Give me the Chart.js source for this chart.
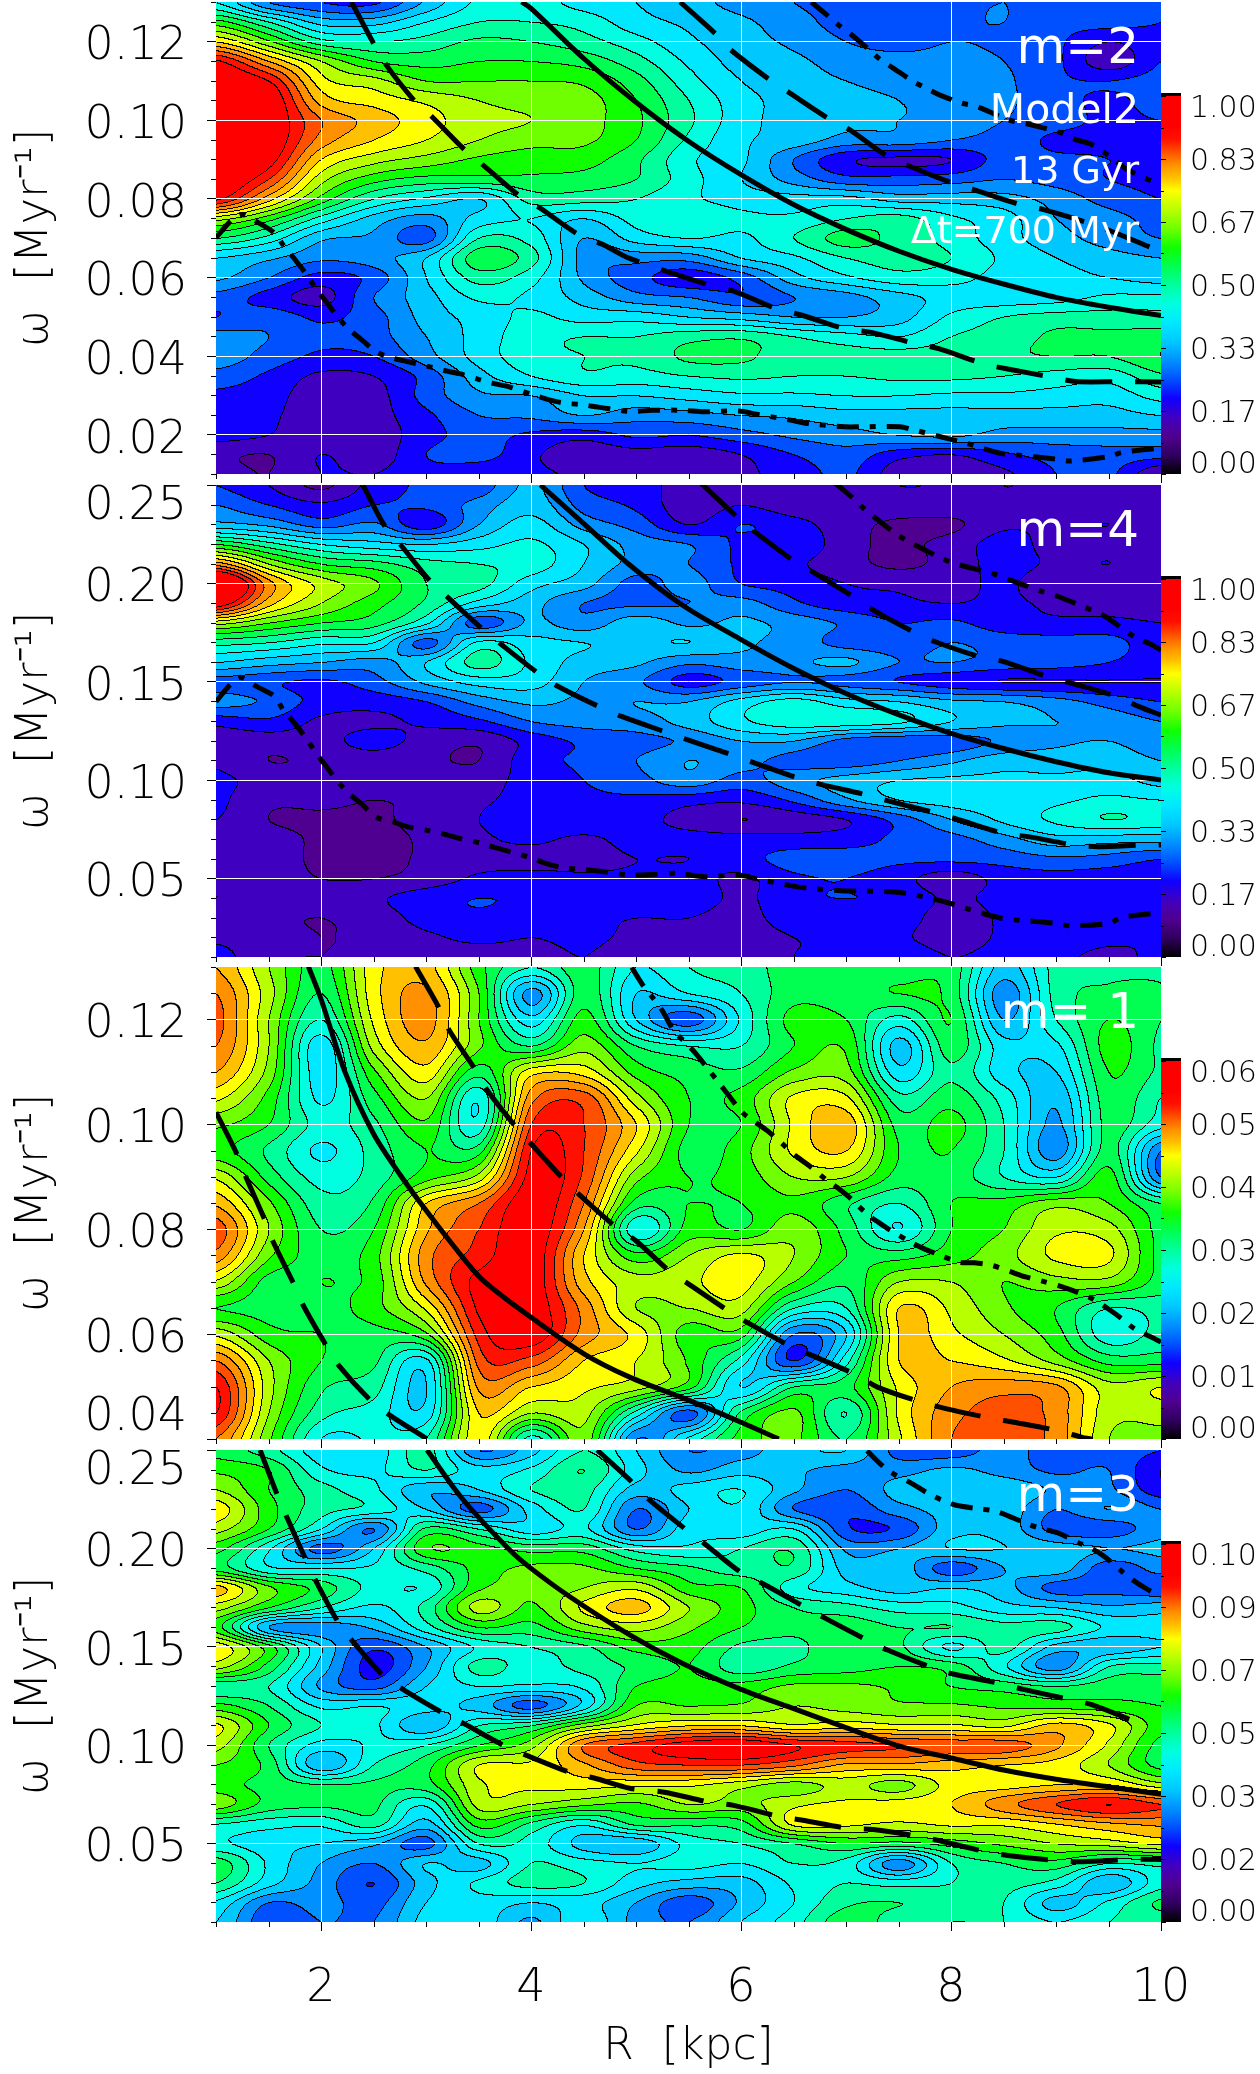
<!DOCTYPE html>
<html><head><meta charset="utf-8">
<style>html,body{margin:0;padding:0;background:#fff}canvas{position:absolute;left:0;display:block}</style>
<script src="https://cdn.jsdelivr.net/npm/chart.js@4/dist/chart.umd.js"></script>
</head><body>
<canvas id="c1"></canvas><canvas id="c2"></canvas><canvas id="c3"></canvas><canvas id="c4"></canvas>
<script>
const rCols=[1,1.5,2,2.5,3,3.5,4,4.5,5,5.5,6,6.5,7,7.5,8,8.5,9,9.5,10];
const xTicks=[2,4,6,8,10];
const xMinor=[1,1.5,2.5,3,3.5,4.5,5,5.5,6.5,7,7.5,8.5,9,9.5];

const w2=[.13,.125,.12,.115,.11,.105,.10,.095,.09,.085,.08,.075,.07,.065,.06,.055,.05,.045,.04,.035,.03,.025,.02,.015,.01];
const v2=[
[45,30,25,24,36,46,47,43,40,37,33,30,28,25,29,30,29,29,26],
[62,50,38,38,45,50,50,48,42,39,36,32,28,27,29,30,27,27,25],
[80,66,52,50,52,56,55,52,47,41,37,34,30,28,30,29,26,20,24],
[101,85,70,60,58,60,60,58,52,44,38,36,33,32,32,30,26,17,25],
[108,100,77,72,65,65,65,64,57,47,40,37,35,34,34,31,26,25,27],
[115,106,83,78,74,70,68,67,60,50,42,38,36,35,34,31,27,24,27],
[115,106,90,83,77,72,70,67,61,51,42,38,36,35,33,30,27,24,25],
[115,106,88,80,75,70,67,66,60,49,41,38,33,33,30,28,24,24,23],
[112,103,80,72,68,64,62,62,56,46,41,30,21,19,20,27,26,25,24],
[108,95,72,62,58,58,59,58,55,47,40,33,27,27,28,30,28,25,24],
[101,82,63,50,44,40,52,52,50,46,43,42,42,38,38,37,33,28,25],
[72,62,48,38,33,42,45,40,47,49,46,46,50,52,46,42,35,32,28],
[55,48,36,34,28,50,48,35,42,45,44,50,57,53,48,42,37,33,30],
[40,36,31,33,40,58,52,33,32,32,40,44,50,52,50,44,40,37,35],
[36,30,23,27,40,52,47,34,27,22,27,38,44,48,47,43,42,40,38],
[28,23,18,30,38,46,44,38,32,30,26,30,33,38,42,42,43,46,46],
[25,28,24,28,37,42,46,43,43,40,38,35,35,38,46,50,52,52,52],
[32,30,26,28,35,42,48,50,50,53,54,50,47,45,50,52,56,56,57],
[33,28,24,25,33,42,48,50,51,56,56,52,52,52,52,54,55,55,60],
[28,24,19,20,27,38,45,49,48,50,51,50,50,51,51,50,48,47,54],
[24,22,17,18,27,34,35,40,40,42,44,44,45,45,44,44,43,42,47],
[24,21,17,18,24,30,31,35,32,33,35,36,38,38,38,38,38,38,40],
[22,20,16,17,23,27,24,22,26,25,28,31,33,35,36,33,33,33,33],
[16,15,20,17,25,27,21,17,18,17,20,25,28,22,20,24,27,28,27],
[17,15,20,20,23,21,21,19,19,17,19,22,26,17,17,19,25,26,15]];

const w4=[.25,.24,.23,.22,.21,.20,.19,.18,.17,.16,.15,.14,.13,.12,.11,.10,.09,.08,.07,.06,.05,.04,.03,.02,.01];
const v4=[
[25,20,14,22,26,27,36,25,23,17,17,16,17,20,19,15,17,18,17],
[30,25,21,25,26,32,38,28,24,17,20,17,17,18,18,16,17,19,18],
[37,34,28,31,22,35,42,33,28,20,25,22,17,14,14,19,19,20,18],
[60,52,45,42,40,43,46,40,33,30,24,24,17,14,17,22,18,19,18],
[88,70,60,57,52,50,48,40,33,30,24,21,17,14,17,22,19,20,18],
[118,87,73,66,55,52,42,37,28,32,25,23,20,19,18,21,16,18,18],
[105,82,70,62,54,43,37,30,29,30,32,26,22,21,20,21,19,19,18],
[72,65,60,57,46,27,36,32,38,34,36,33,29,25,26,22,21,21,20],
[52,50,46,45,28,46,42,40,39,40,36,33,28,27,30,28,27,27,21],
[40,37,35,33,40,52,44,38,36,31,33,34,36,30,30,28,27,25,22],
[28,26,24,28,36,42,42,35,31,23,27,30,28,25,22,20,20,20,20],
[32,29,23,22,25,32,36,34,35,35,42,47,42,40,36,35,32,28,25],
[22,24,19,19,21,24,30,32,33,37,44,48,48,46,40,36,35,33,30],
[16,17,18,22,18,16,22,26,28,31,35,35,28,26,27,31,34,35,32],
[19,15,16,17,16,15,23,26,30,35,32,28,27,30,34,38,38,38,35],
[21,18,16,16,18,18,22,25,28,33,28,33,37,40,41,41,41,42,38],
[21,16,16,15,16,19,22,24,24,22,21,26,34,40,42,42,44,46,45],
[20,15,14,14,17,20,24,24,22,18,15,17,20,27,35,41,46,50,48],
[17,17,14,13,16,19,21,19,22,22,22,22,23,26,28,33,38,37,37],
[17,17,14,13,16,18,18,18,20,20,23,27,27,26,26,27,29,28,25],
[16,17,15,15,17,21,22,21,21,22,19,24,25,22,17,22,23,22,21],
[15,19,17,19,23,25,24,22,22,23,19,24,25,24,19,22,23,22,20],
[17,16,15,17,22,24,22,21,20,20,18,23,24,23,17,21,23,23,21],
[19,17,15,16,19,21,20,21,19,19,17,20,21,21,17,21,22,21,20],
[22,16,15,16,18,18,18,20,17,18,17,20,21,24,20,22,21,19,21]];

const w1=[.13,.125,.12,.115,.11,.105,.10,.095,.09,.085,.08,.075,.07,.065,.06,.055,.05,.045,.04];
const v1=[
[85,70,58,78,82,62,50,58,45,50,52,58,58,57,58,38,52,54,55],
[90,72,55,78,86,65,33,58,40,45,50,58,57,60,58,32,52,56,55],
[92,70,50,76,87,65,42,62,40,27,46,62,60,48,60,35,50,60,55],
[90,70,42,72,84,66,55,68,55,50,50,60,64,38,58,42,44,62,54],
[85,68,42,64,78,57,78,78,63,58,56,66,67,42,54,42,40,60,54],
[76,63,44,58,70,46,88,93,72,60,62,76,76,52,58,48,36,58,50],
[66,60,48,54,64,47,95,95,80,60,60,76,83,58,62,50,34,57,47],
[62,54,44,52,60,58,100,95,76,58,63,76,80,60,60,50,32,57,30],
[74,58,48,52,63,72,102,94,67,60,62,70,70,58,58,50,45,62,30],
[84,66,52,56,80,90,104,90,58,60,60,64,56,50,60,62,68,65,55],
[93,70,55,60,84,95,104,85,46,62,60,68,58,45,60,65,74,72,58],
[88,66,58,63,88,97,104,80,62,70,76,70,60,58,63,68,76,76,58],
[74,58,60,62,86,102,104,82,72,74,77,65,56,70,70,65,68,68,58],
[60,58,58,63,76,101,104,88,70,70,72,50,50,80,74,66,60,50,52],
[74,62,60,58,64,97,104,88,78,62,62,30,40,80,76,70,62,47,52],
[90,70,60,56,44,92,93,80,75,64,48,25,48,80,80,76,68,58,58],
[100,72,56,52,40,86,80,76,72,62,40,55,58,76,85,88,86,72,75],
[100,70,52,48,42,80,70,72,48,28,56,66,50,76,88,92,88,72,72],
[90,66,45,46,50,78,48,68,30,46,62,66,55,74,90,92,88,70,68]];

const w3=[.25,.24,.23,.22,.21,.20,.19,.18,.17,.16,.15,.14,.13,.12,.11,.10,.09,.08,.07,.06,.05,.04,.03,.02,.01];
const v3=[
[58,52,42,42,52,30,38,50,40,30,33,38,40,28,27,32,27,28,25],
[64,60,46,44,50,42,46,55,42,34,38,36,33,33,36,33,29,30,20],
[70,60,52,46,36,40,50,52,38,42,45,36,30,37,38,39,34,31,22],
[78,62,52,48,40,28,42,50,30,40,44,30,26,33,37,38,30,35,30],
[72,60,45,30,56,50,42,46,30,43,42,45,26,26,38,38,28,27,33],
[62,46,28,40,64,62,58,58,48,46,50,54,34,35,40,40,38,35,36],
[58,46,45,46,52,62,66,66,60,56,52,54,38,38,27,35,38,27,32],
[82,66,58,48,46,64,66,70,74,62,60,47,42,38,40,37,28,28,26],
[72,60,50,44,52,72,64,76,82,70,62,55,52,48,47,42,40,36,38],
[62,35,32,36,48,60,58,68,72,66,60,56,58,55,55,52,52,44,42],
[78,62,40,26,35,46,50,54,62,62,54,54,58,56,44,52,38,36,40],
[72,58,38,23,35,52,47,52,56,60,52,56,58,60,58,46,32,50,52],
[52,50,34,28,40,45,44,46,60,62,62,66,66,64,60,58,55,58,58],
[62,55,44,45,42,38,28,42,65,65,66,70,68,66,66,64,63,62,60],
[76,60,50,46,36,50,55,68,76,80,80,76,78,76,76,74,82,76,62],
[72,55,43,46,50,60,68,90,97,103,105,100,97,95,93,93,86,74,58],
[65,58,36,50,58,75,76,84,93,95,95,91,84,84,82,80,78,70,58],
[62,58,55,56,58,74,76,77,76,76,72,68,72,68,77,78,80,80,72],
[68,58,56,56,46,72,70,66,64,70,68,74,76,77,80,88,95,100,95],
[50,47,46,52,38,62,54,46,56,56,58,76,76,74,76,76,80,84,86],
[46,42,40,36,28,50,48,38,36,47,50,55,60,58,62,66,70,72,76],
[58,44,35,30,40,38,50,47,45,47,45,50,48,32,50,55,58,50,52],
[55,42,33,25,38,46,52,50,42,38,38,46,50,48,50,52,48,36,48],
[44,30,32,28,40,43,40,42,35,27,36,45,54,55,52,50,38,46,56],
[40,26,30,30,42,43,34,44,33,30,40,48,58,52,50,50,45,50,52]];

// curves: R and omega
const m2SolidR=[3.91,4,4.5,5,5.5,6,6.5,7,7.5,8,8.5,9,9.5,10];
const m2SolidW=[.13,.1284,.1157,.1045,.0946,.0861,.0785,.0722,.0667,.0621,.0583,.0549,.0524,.0503];
const m2Dash1R=[2.29,2.5,2.61,2.88,3.05,3.38,3.55,3.89,4.08,4.45,4.68,4.94,5.67,5.96,6.34,6.59,6.99,7.24,7.64,7.89,8.31,8.54,8.96,9.19,9.63,10];
const m2Dash1W=[.13,.1195,.1144,.1052,.101,.0921,.0884,.0807,.0777,.0709,.0684,.0648,.0583,.0562,.052,.0503,.0469,.046,.0433,.0418,.038,.0367,.0346,.0335,.0335,.0334];
const m2Dash2R=[5.42,5.75,5.9,6.27,6.44,6.82,7.03,7.39,7.6,8,8.23,8.66,8.9,9.4,9.95];
const m2Dash2W=[.13,.1221,.1179,.1103,.1073,.1006,.0976,.0908,.0883,.0841,.0822,.0785,.0771,.073,.0671];
const m2DotUR=[6.67,6.84,6.95,7.07,7.24,7.33,7.45,7.64,7.76,7.89,8.1,8.24,8.54,8.71,8.88,9.05,9.19,9.34,9.51,9.68,9.95];
const m2DotUW=[.13,.1262,.1237,.1213,.1174,.1153,.1132,.1098,.1081,.1064,.1043,.1035,.1001,.0991,.098,.0967,.095,.0938,.0908,.0874,.084];
const m2DotLR=[1,1.14,1.24,1.39,1.56,1.64,1.75,1.87,1.95,2.04,2.17,2.26,2.38,2.53,2.68,2.82,3.03,3.17,3.32,3.53,3.66,3.8,4.01,4.14,4.3,4.49,4.64,4.94,5.15,5.44,5.65,5.98,6.15,6.47,6.65,6.99,7.14,7.51,7.66,7.97,8.16,8.48,8.64,9,9.13,9.5,9.63,10];
const m2DotLW=[.0701,.0743,.076,.0741,.0712,.0682,.0646,.0604,.0572,.0541,.0496,.0469,.0443,.041,.0395,.0386,.0373,.0363,.0355,.0338,.0329,.0321,.0302,.0291,.0281,.0276,.027,.0259,.0262,.0262,.0258,.026,.0252,.0237,.0228,.022,.022,.022,.0211,.019,.0177,.0152,.0148,.0138,.0133,.0144,.0155,.0166];

const m4SolidR=[4.09,4.5,4.94,5.44,5.98,6.47,7,7.5,8,8.5,9,9.5,10];
const m4SolidW=[.25,.2305,.2093,.189,.172,.1576,.144,.1332,.1237,.116,.1093,.1037,.10];
const m4Dash1R=[2.4,2.6,2.76,3.03,3.2,3.53,3.71,4.07,4.25,4.66,4.87,5.27,5.5,5.92,6.14,6.55,6.78,7.2,7.43,7.87,8.08,8.5,8.73,9.17,9.4,9.84,10];
const m4Dash1W=[.25,.2297,.2195,.2017,.1932,.1771,.1692,.1542,.1478,.137,.1322,.1246,.1203,.1127,.1085,.1008,.0975,.0924,.089,.083,.0797,.0729,.0712,.067,.0661,.067,.067];
const m4Dash2R=[5.62,5.96,6.13,6.49,6.68,7.07,7.26,7.64,7.85,8.27,8.5,8.92,9.15,9.58,9.79,10];
const m4Dash2W=[.2508,.2339,.2263,.2119,.2059,.1932,.1864,.1754,.1703,.1627,.1602,.1525,.1492,.1424,.1373,.133];
const m4DotUR=[6.9,7.07,7.18,7.47,7.58,7.91,8.05,8.39,8.52,8.87,9,9.34,9.46,9.77,9.9,10];
const m4DotUW=[.2508,.2432,.2376,.2254,.2217,.2127,.2098,.2051,.2025,.1958,.1937,.1864,.1834,.172,.1692,.166];
const m4DotLR=[1,1.14,1.23,1.39,1.56,1.64,1.75,1.87,1.95,2.04,2.17,2.27,2.38,2.53,2.68,2.82,3.03,3.17,3.32,3.53,3.66,3.8,4.01,4.14,4.3,4.49,4.64,4.94,5.15,5.4,5.65,5.98,6.15,6.47,6.65,6.99,7.16,7.49,7.66,7.97,8.14,8.48,8.64,9,9.13,9.5,9.63,10];
const m4DotLW=[.1398,.1488,.1522,.1475,.1424,.1356,.1288,.1203,.1139,.1076,.0986,.0929,.0881,.081,.0788,.0763,.0742,.0725,.0703,.0678,.0656,.0636,.0602,.0576,.0554,.0546,.0537,.0517,.052,.0525,.0508,.0517,.0497,.0463,.0449,.0436,.0436,.0429,.0415,.0376,.0347,.0297,.0288,.0271,.0259,.0271,.0302,.0325];

const m1SolidR=[1.88,2,2.23,2.5,2.76,3,3.26,3.53,4,4.5,4.94,5.5,6,6.36];
const m1SolidW=[.1301,.1239,.1099,.0982,.0902,.0836,.0769,.0705,.0632,.0563,.0518,.0474,.0432,.04];
const m1Dash1R=[1,1.2,1.28,1.46,1.54,1.74,1.83,2.05,2.17,2.48,2.65,3.01];
const m1Dash1W=[.1023,.0943,.0902,.082,.0778,.0696,.0655,.0578,.054,.0472,.0446,.04];
const m1Dash2R=[2.9,3.13,3.22,3.47,3.58,3.86,4,4.32,4.47,4.81,5,5.33,5.52,5.89,6.08,6.49,6.68,7.09,7.3,7.72,7.95,8.37,8.6,9.04,9.27,9.35];
const m1Dash2W=[.1301,.122,.118,.1104,.1066,.0994,.0963,.0893,.0864,.0804,.0778,.0718,.0693,.0643,.062,.0575,.0559,.0523,.0499,.047,.0458,.044,.0432,.0415,.0402,.04];
const m1DotR=[4.96,5.08,5.17,5.25,5.36,5.47,5.56,5.7,5.79,5.88,6.01,6.13,6.25,6.42,6.52,6.65,6.82,6.92,7.03,7.2,7.31,7.43,7.62,7.74,7.89,8.08,8.22,8.39,8.58,8.71,8.87,9.06,9.2,9.35,9.52,9.63,9.75,9.94,10];
const m1DotW=[.1299,.1261,.1239,.1217,.1178,.1156,.1137,.1102,.1079,.1056,.1023,.1005,.0988,.0958,.094,.0921,.0893,.0879,.0861,.0829,.0813,.0797,.0775,.0763,.0751,.0737,.0736,.0731,.0718,.0709,.0701,.069,.068,.0667,.0645,.0629,.061,.0591,.0585];

const m3SolidR=[3.01,3.34,3.8,4,4.37,4.94,5.44,6,6.47,7,7.5,8,8.5,9,9.5,10];
const m3SolidW=[.25,.2256,.199,.1898,.1754,.156,.1416,.1283,.1191,.1088,.0996,.0934,.0873,.0826,.0787,.075];
const m3Dash1R=[1.42,1.58,1.67,1.85,1.95,2.16,2.29,2.59,2.78,3.17,3.36,3.76,3.97,4.38,4.6,4.94,5.27,5.7,5.93,6.36,6.59,7.03,7.26,7.7,7.93,8.37,8.58,9.03,9.26,9.71,10];
const m3Dash1W=[.25,.2277,.2164,.1949,.1836,.1627,.1535,.1354,.1283,.116,.1109,.0992,.0945,.0859,.0832,.078,.076,.0709,.0693,.0637,.0617,.0576,.057,.0535,.0508,.0453,.0436,.0412,.0406,.0418,.0418];
const m3Dash2R=[4.63,4.94,5.12,5.46,5.65,6,6.21,6.59,6.8,7.18,7.39,7.81,8.02,8.46,8.69,9.12,9.34,9.77];
const m3Dash2W=[.25,.2348,.225,.2102,.2025,.1877,.182,.1707,.1645,.1539,.1484,.1395,.1361,.1314,.1283,.1232,.1205,.1115];
const m3DotR=[7.2,7.36,7.47,7.6,7.79,7.91,8.05,8.27,8.41,8.55,8.75,8.88,9.02,9.23,9.35,9.47,9.64,9.75,9.86,10];
const m3DotW=[.2496,.2414,.2373,.2338,.2277,.2246,.2219,.2201,.2191,.2164,.2119,.2098,.2078,.2025,.1996,.1955,.1877,.1832,.1795,.1754];

// colour levels of the contour fill (one colour per 5% band)
const bandColors=['#000000','#300060','#500090','#4000c0','#1000ff','#0050ff','#0090ff','#00c8ff','#00e8ff','#00ffe0','#00ff9c','#00ff50','#10ff00','#70ff00','#b8ff00','#ffff00','#ffc000','#ff9000','#ff5000','#ff1000','#ff0000'];
const rgb=bandColors.map(h=>[parseInt(h.slice(1,3),16),parseInt(h.slice(3,5),16),parseInt(h.slice(5,7),16)]);

const FONT='"DejaVu Sans"';
const WEIGHT='200';

function cr(p0,p1,p2,p3,t){return p1+.5*t*(p2-p0+t*(2*p0-5*p1+4*p2-p3+t*(3*(p1-p2)+p3-p0)));}

const heatPlugin={id:'heat',beforeDraw(chart,_a,o){
  const {ctx,chartArea:ca,scales:{x,y,cb}}=chart;
  const L=Math.round(ca.left),T=Math.round(ca.top),W=Math.round(ca.right)-L,H=Math.round(ca.bottom)-T;
  const ds=chart.data.datasets[0].data,nx=o.nx,ny=o.ny,rs=o.rs,ws=o.ws;
  const val=(i,j)=>ds[Math.max(0,Math.min(ny-1,j))*nx+Math.max(0,Math.min(nx-1,i))].v;
  const fx=new Float64Array(W),fy=new Float64Array(H);
  for(let i=0;i<W;i++){const R=x.getValueForPixel(L+i+.5);fx[i]=(R-rs[0])/(rs[1]-rs[0]);}
  for(let j=0;j<H;j++){const w=y.getValueForPixel(T+j+.5);fy[j]=(w-ws[0])/(ws[1]-ws[0]);}
  const bands=new Int8Array(W*H);
  for(let j=0;j<H;j++){const gy=Math.max(0,Math.min(ny-1.001,fy[j])),j0=Math.floor(gy),ty=gy-j0;
    for(let i=0;i<W;i++){const gx=Math.max(0,Math.min(nx-1.001,fx[i])),i0=Math.floor(gx),tx=gx-i0;
      const c=[];for(let q=-1;q<=2;q++)c.push(cr(val(i0-1,j0+q),val(i0,j0+q),val(i0+1,j0+q),val(i0+2,j0+q),tx));
      const v=cr(c[0],c[1],c[2],c[3],ty);
      bands[j*W+i]=Math.max(0,Math.min(20,Math.floor(v/5)));
    }}
  const img=ctx.createImageData(W,H),d=img.data;
  for(let j=0;j<H;j++)for(let i=0;i<W;i++){
    const b=bands[j*W+i],k=(j*W+i)*4;
    const edge=(i>0&&bands[j*W+i-1]!==b)||(j>0&&bands[(j-1)*W+i]!==b);
    const c=edge?[0,0,0]:rgb[b];
    d[k]=c[0];d[k+1]=c[1];d[k+2]=c[2];d[k+3]=255;
  }
  ctx.putImageData(img,L,T);
  // colour bar
  const bL=L+W,bW=20,y0=cb.getPixelForValue(0),y1=cb.getPixelForValue(o.vmax);
  for(let py=Math.round(y1);py<Math.round(y0);py++){
    const u=cb.getValueForPixel(py+.5)/o.vmax;
    const f=u>.75?Math.min(20,15+(u-.75)/.17*5):u*20,a=Math.max(0,Math.min(20,Math.floor(f))),b=Math.min(20,a+1),t=Math.max(0,Math.min(1,f-a));
    ctx.fillStyle=`rgb(${rgb[a].map((c,q)=>Math.round(c+(rgb[b][q]-c)*t)).join(',')})`;
    ctx.fillRect(bL,py,bW,1);
  }
  ctx.fillStyle='#000';ctx.fillRect(bL,Math.round(y1)-3,bW,3);
  o.cbMinor.forEach(v=>ctx.fillRect(bL,Math.round(cb.getPixelForValue(v)),3,1));
  o.cbVals.forEach(v=>ctx.fillRect(bL,Math.round(cb.getPixelForValue(v)),5,1));
},
afterDraw(chart,_a,o){
  const {ctx,chartArea:ca,scales:{x,y}}=chart;
  ctx.save();ctx.fillStyle='#000';
  xMinor.forEach(v=>ctx.fillRect(Math.round(x.getPixelForValue(v)),Math.round(ca.bottom),1,5));
  o.yMinor.forEach(v=>ctx.fillRect(Math.round(ca.left)-5,Math.round(y.getPixelForValue(v)),5,1));
  ctx.fillStyle='#fff';ctx.textAlign='right';ctx.textBaseline='alphabetic';
  o.texts.forEach(t=>{ctx.font=`normal ${t[1]}px ${FONT}`;ctx.fillText(t[0],1139,ca.top+t[2]);});
  ctx.restore();
}};

function noPad(s){s.paddingTop=s.paddingBottom=s.paddingLeft=s.paddingRight=0;}
function shiftLabels(scale,fn){
  if(scale._shifted)return;scale._shifted=true;
  const orig=scale._computeLabelItems.bind(scale);
  scale._computeLabelItems=ca=>{const items=orig(ca);items.forEach((it,i)=>{it.options.translation[1]+=fn(scale.ticks[i].value);});return items;};
}

function panel(id,top,H,padTop,o){
  const cv=document.getElementById(id);cv.style.top=top+'px';cv.width=1260;cv.height=H;
  const nodes=[];o.ws.forEach((w,j)=>o.rs.forEach((r,i)=>nodes.push({x:r,y:w,v:o.vals[j][i]})));
  const line=(R,W,dash)=>({type:'line',data:R.map((r,i)=>({x:r,y:W[i]})),borderColor:'#000',borderWidth:5,borderDash:dash,pointRadius:0,tension:.3,fill:false,borderCapStyle:'butt',order:1});
  const DASH=[47,23],DOT=[22,11,6,11];
  const datasets=[{type:'scatter',label:'amplitude',data:nodes,pointRadius:0,showLine:false,order:2}];
  o.curves.forEach(c=>datasets.push(line(c[0],c[1],c[2]==='s'?[]:c[2]==='d'?DASH:DOT)));
  const cbVals=o.cbF.map(f=>f*o.vmax);
  new Chart(cv,{data:{datasets},options:{
    responsive:false,animation:false,events:[],
    layout:{padding:{top:padTop,left:0,right:0,bottom:0}},
    plugins:{legend:{display:false},tooltip:{enabled:false},title:{display:false},
      heat:{nx:o.rs.length,ny:o.ws.length,rs:o.rs,ws:o.ws,vmax:o.vmax,cbVals,cbMinor:o.cbM.map(f=>f*o.vmax),yMinor:o.yMinor,texts:o.texts}},
    scales:{
      x:{type:'linear',min:1,max:10,position:'bottom',border:{display:false},
        afterFit(s){s.height=H-padTop-472;noPad(s);},
        afterBuildTicks(s){s.ticks=xTicks.map(v=>({value:v}));},
        grid:{color:c=>c.tick&&c.tick.value===10?'transparent':'#ffffff',tickColor:'#000',tickLength:9,lineWidth:1,tickWidth:1},
        ticks:{display:!!o.last,autoSkip:false,maxRotation:0,padding:30,color:'#000',font:{family:FONT,size:46,weight:WEIGHT},callback:v=>String(v)},
        title:{display:!!o.last,text:'R  [kpc]',color:'#000',font:{family:FONT,size:44,weight:WEIGHT},padding:{top:0,bottom:0}}},
      y:{type:'linear',min:o.ymin,max:o.ymax,position:'left',border:{display:false},
        afterFit(s){s.width=216;noPad(s);shiftLabels(s,v=>Math.abs(v-o.ymax)<1e-9?22:Math.abs(v-o.ymin)<1e-9?-21:6);},
        afterBuildTicks(s){s.ticks=o.yTicks.map(v=>({value:v}));},
        grid:{color:c=>c.tick&&(Math.abs(c.tick.value-o.ymax)<1e-9||Math.abs(c.tick.value-o.ymin)<1e-9)?'transparent':'#ffffff',tickColor:'#000',tickLength:9,lineWidth:1,tickWidth:1},
        ticks:{autoSkip:false,padding:20,color:'#000',font:{family:FONT,size:46,weight:WEIGHT},callback:v=>v.toFixed(2)},
        title:{display:true,text:'ω  [Myr⁻¹]',color:'#000',font:{family:FONT,size:45,weight:WEIGHT},padding:{top:8,bottom:0}}},
      cb:{type:'linear',min:0,max:o.vmax*472/378,position:'right',border:{display:false},
        afterFit(s){s.width=99;noPad(s);shiftLabels(s,v=>v===0?-9:Math.abs(v-o.vmax)<1e-9?13:3);},
        afterBuildTicks(s){s.ticks=cbVals.map(v=>({value:v}));},
        grid:{display:false},
        ticks:{autoSkip:false,padding:21,color:'#000',font:{family:FONT,size:30,weight:WEIGHT},callback:(v,i)=>o.cbLabels[i]}}
    }},plugins:[heatPlugin]});
}
const cbF=[0,1/6,2/6,3/6,4/6,5/6,1];
const cbM=[1/12,3/12,5/12,7/12,9/12,11/12];
const yMinorA=[.015,.025,.035,.045,.055,.065,.075,.085,.095,.105,.115,.125,.01,.03,.05,.07,.09,.11,.13];
const yMinorB=[.02,.03,.04,.06,.07,.08,.09,.11,.12,.13,.14,.16,.17,.18,.19,.21,.22,.23,.24,.01];
const yMinorC=[.045,.05,.055,.065,.07,.075,.085,.09,.095,.105,.11,.115,.125,.13];

panel('c1',0,484,2,{rs:rCols,ws:w2,vals:v2,vmax:1,ymin:.01,ymax:.13,yTicks:[.02,.04,.06,.08,.10,.12],yMinor:yMinorA,cbF,cbM,
  cbLabels:['0.00','0.17','0.33','0.50','0.67','0.83','1.00'],
  curves:[[m2SolidR,m2SolidW,'s'],[m2Dash1R,m2Dash1W,'d'],[m2Dash2R,m2Dash2W,'d'],[m2DotUR,m2DotUW,'o'],[m2DotLR,m2DotLW,'o']],
  texts:[['m=2',50,61],['Model2',41,121],['13 Gyr',38,181],['Δt=700 Myr',38,241]]});
panel('c2',484,482,1,{rs:rCols,ws:w4,vals:v4,vmax:1,ymin:.01,ymax:.25,yTicks:[.05,.10,.15,.20,.25],yMinor:yMinorB,cbF,cbM,
  cbLabels:['0.00','0.17','0.33','0.50','0.67','0.83','1.00'],
  curves:[[m4SolidR,m4SolidW,'s'],[m4Dash1R,m4Dash1W,'d'],[m4Dash2R,m4Dash2W,'d'],[m4DotUR,m4DotUW,'o'],[m4DotLR,m4DotLW,'o']],
  texts:[['m=4',50,61]]});
panel('c3',966,483,1,{rs:rCols,ws:w1,vals:v1,vmax:.06,ymin:.04,ymax:.13,yTicks:[.04,.06,.08,.10,.12],yMinor:yMinorC,cbF,cbM,
  cbLabels:['0.00','0.01','0.02','0.03','0.04','0.05','0.06'],
  curves:[[m1SolidR,m1SolidW,'s'],[m1Dash1R,m1Dash1W,'d'],[m1Dash2R,m1Dash2W,'d'],[m1DotR,m1DotW,'o']],
  texts:[['m= 1',50,61]]});
panel('c4',1449,625,1,{rs:rCols,ws:w3,vals:v3,vmax:.10,ymin:.01,ymax:.25,yTicks:[.05,.10,.15,.20,.25],yMinor:yMinorB,cbF,cbM,
  cbLabels:['0.00','0.02','0.03','0.05','0.07','0.09','0.10'],last:true,
  curves:[[m3SolidR,m3SolidW,'s'],[m3Dash1R,m3Dash1W,'d'],[m3Dash2R,m3Dash2W,'d'],[m3DotR,m3DotW,'o']],
  texts:[['m=3',50,61]]});
</script>
</body></html>
